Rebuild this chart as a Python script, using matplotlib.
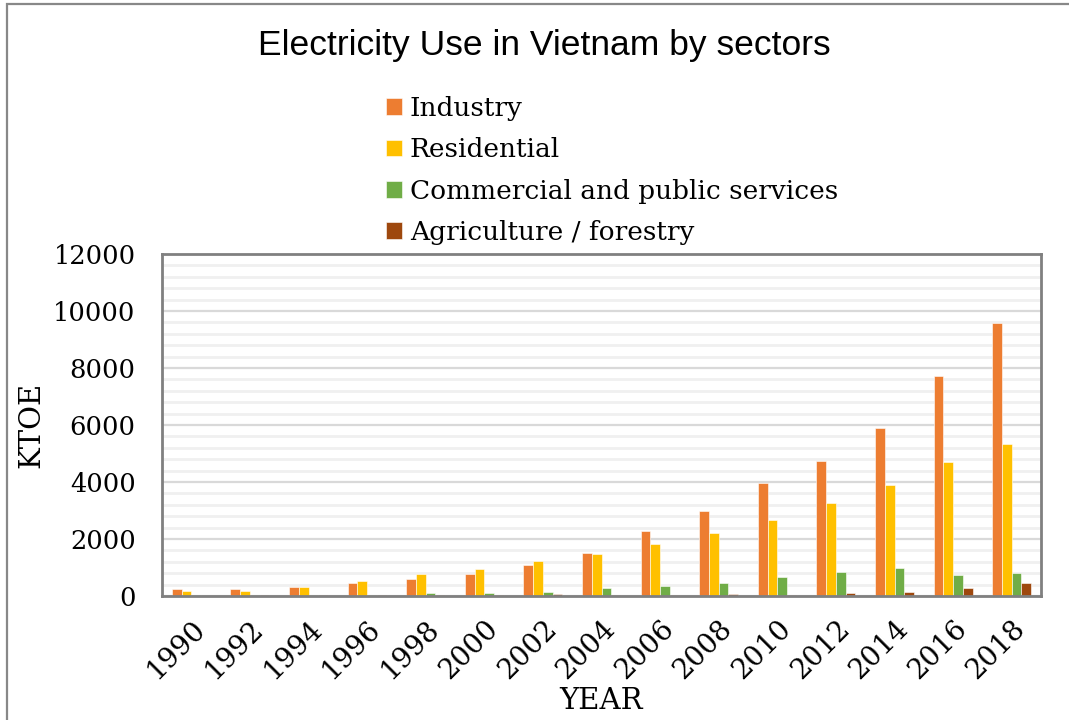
import matplotlib
matplotlib.use("Agg")
import matplotlib.pyplot as plt
import numpy as np
from matplotlib.patches import Rectangle
from matplotlib.ticker import MultipleLocator

years = ["1990", "1992", "1994", "1996", "1998", "2000", "2002", "2004",
         "2006", "2008", "2010", "2012", "2014", "2016", "2018"]
industry = [234, 257, 327, 468, 585, 760, 1076, 1520, 2281, 2994, 3965, 4725, 5906, 7708, 9579]
residential = [164, 187, 327, 538, 760, 936, 1228, 1474, 1836, 2211, 2678, 3263, 3895, 4713, 5333]
commercial = [50, 47, 47, 47, 94, 117, 152, 281, 351, 468, 655, 854, 971, 725, 819]
agriculture = [10, 40, 40, 40, 40, 40, 58, 47, 47, 82, 47, 105, 152, 281, 468]

series = [
    ("Industry", industry, "#ED7D31"),
    ("Residential", residential, "#FFC000"),
    ("Commercial and public services", commercial, "#70AD47"),
    ("Agriculture / forestry", agriculture, "#9E480E"),
]

serif = ["DejaVu Serif"]
sans = ["Liberation Sans", "DejaVu Sans"]

fig = plt.figure(figsize=(10.69, 7.2), dpi=100)
ax = fig.add_axes([162 / 1069, 1 - 596 / 720, (1041 - 162) / 1069, (596 - 254) / 720])

x = np.arange(len(years))
w = 0.1665
handles = []
for i, (name, vals, col) in enumerate(series):
    b = ax.bar(x + (i - 1.5) * w, vals, width=w, color=col, label=name,
               edgecolor="white", linewidth=0.4, zorder=3)
    handles.append(b)

ax.set_xlim(-0.5, len(years) - 0.5)
ax.set_ylim(0, 12000)
ax.yaxis.set_major_locator(MultipleLocator(2000))
ax.yaxis.set_minor_locator(MultipleLocator(400))
ax.grid(which="minor", axis="y", color="#f0f0f0", linewidth=2.0, zorder=0)
ax.grid(which="major", axis="y", color="#d9d9d9", linewidth=1.6, zorder=1)
ax.tick_params(axis="both", which="both", length=0)
ax.tick_params(axis="y", pad=19)
ax.set_xticks(x)
ax.set_xticklabels(years, rotation=45, ha="right", va="top", rotation_mode="anchor",
                   family=serif, fontsize=20)
for lab in ax.get_yticklabels():
    lab.set_family(serif)
    lab.set_fontsize(18.5)
ax.tick_params(axis="x", pad=14)
for s in ax.spines.values():
    s.set_color("#808080")
    s.set_linewidth(2.0)
    s.set_zorder(5)

ax.set_ylabel("KTOE", family=serif, fontsize=21)
ax.yaxis.set_label_coords(31 / 1069, 1 - 425 / 720, transform=fig.transFigure)
ax.set_xlabel("YEAR", family=serif, fontsize=21)
ax.xaxis.set_label_coords(601 / 1069, 1 - 701 / 720, transform=fig.transFigure)
ax.xaxis.label.set_va("center")
ax.yaxis.label.set_va("center")

fig.text(0.509, 1 - 45 / 720, "Electricity Use in Vietnam by sectors", ha="center", va="center",
         family=sans, fontsize=25.5)

fig.legend(handles=handles, labels=[s[0] for s in series], loc="upper left",
           bbox_to_anchor=(386 / 1069, 1 - 96 / 720), frameon=False,
           prop={"family": serif, "size": 19}, handlelength=0.6, handleheight=0.6,
           handletextpad=0.3, labelspacing=0.62, borderpad=0, borderaxespad=0)

# outer chart border
fig.patches.append(Rectangle((7 / 1069, -0.05), 1.2, 1 - 4 / 720 + 0.05,
                             transform=fig.transFigure, fill=False,
                             edgecolor="#888888", linewidth=1.6))

fig.savefig("out.png", dpi=100)
